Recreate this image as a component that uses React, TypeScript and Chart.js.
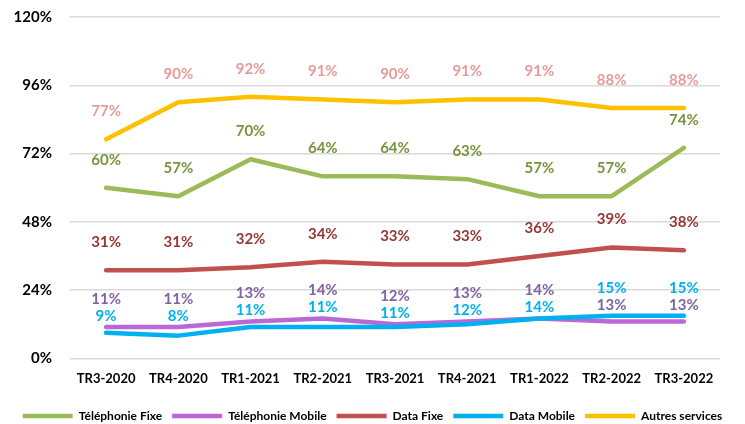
import React, { useEffect, useRef } from "react";
import { Chart, registerables } from "chart.js";

Chart.register(...registerables);

const categories = ["TR3-2020", "TR4-2020", "TR1-2021", "TR2-2021", "TR3-2021", "TR4-2021", "TR1-2022", "TR2-2022", "TR3-2022"];
const telFixe = [60, 57, 70, 64, 64, 63, 57, 57, 74];
const telMobile = [11, 11, 13, 14, 12, 13, 14, 13, 13];
const dataFixe = [31, 31, 32, 34, 33, 33, 36, 39, 38];
const dataMobile = [9, 8, 11, 11, 11, 12, 14, 15, 15];
const autres = [77, 90, 92, 91, 90, 91, 91, 88, 88];
const seriesNames = ["Téléphonie Fixe", "Téléphonie Mobile", "Data Fixe", "Data Mobile", "Autres services"];
const yTicks = [0, 24, 48, 72, 96, 120];

const lineColors = ["#9BBB59", "#B968D6", "#C0504D", "#00B0F0", "#FFC000"];
const labelColors = ["#77933C", "#8064A2", "#953735", "#00B0F0", "#E49C9A"];
const FONT = "Lato, 'Open Sans', sans-serif";

const labelPlugin = {
  id: "valueLabels",
  afterDatasetsDraw(chart: any) {
    const ctx = chart.ctx;
    ctx.save();
    ctx.font = `bold 15px ${FONT}`;
    ctx.textAlign = "center";
    ctx.textBaseline = "middle";
    const metas = chart.data.datasets.map((_: any, i: number) => chart.getDatasetMeta(i));
    chart.data.datasets.forEach((ds: any, i: number) => {
      const meta = metas[i];
      meta.data.forEach((pt: any, j: number) => {
        let y = pt.y - 28;
        if (i === 1 || i === 3) {
          const mob = chart.data.datasets[1].data[j];
          const dm = chart.data.datasets[3].data[j];
          const upper = dm > mob ? 3 : 1;
          const upperY = metas[upper].data[j].y - 28;
          y = i === upper ? upperY : upperY + 17;
        }
        ctx.fillStyle = labelColors[i];
        ctx.fillText(ds.data[j] + "%", pt.x, y);
      });
    });
    ctx.restore();
  },
};

export default function App() {
  const ref = useRef<HTMLCanvasElement>(null);
  useEffect(() => {
    document.body.style.margin = "0";
    const allData = [telFixe, telMobile, dataFixe, dataMobile, autres];
    const chart = new Chart(ref.current as HTMLCanvasElement, {
      type: "line",
      data: {
        labels: categories,
        datasets: allData.map((d, i) => ({
          label: seriesNames[i],
          data: d,
          borderColor: lineColors[i],
          backgroundColor: lineColors[i],
          borderWidth: 4.5,
          pointRadius: 0,
          tension: 0,
          borderCapStyle: "round" as const,
          borderJoinStyle: "round" as const,
          order: 5 - i,
        })),
      },
      options: {
        responsive: false,
        animation: false,
        layout: { padding: { top: 0, right: 0, left: 0, bottom: 0 } },
        plugins: {
          legend: {
            position: "bottom",
            maxHeight: 24,
            labels: {
              usePointStyle: true,
              pointStyle: "line",
              pointStyleWidth: 50,
              boxHeight: 13,
              padding: 10,
              color: "#000",
              font: { family: FONT, size: 12, weight: "bold" },
              sort: (a: any, b: any) => a.datasetIndex - b.datasetIndex,
            },
          },
          tooltip: { enabled: false },
        },
        scales: {
          x: {
            offset: true,
            grid: { display: false, drawTicks: false },
            border: { display: false },
            ticks: {
              padding: 13,
              color: "#000",
              font: { family: FONT, size: 13, weight: "bold" },
              maxRotation: 0,
            },
          },
          y: {
            min: 0,
            max: 120,
            afterFit: (s: any) => { s.width = 70; s.paddingTop = 17; },
            afterBuildTicks: (s: any) => { s.ticks = yTicks.map((v) => ({ value: v })); },
            grid: { color: "#D9D9D9", lineWidth: 1.5, drawTicks: false },
            border: { display: false },
            ticks: {
              padding: 18,
              color: "#000",
              font: { family: FONT, size: 15, weight: "bold" },
              callback: (v: any) => v + "%",
            },
          },
          yRight: {
            position: "right",
            display: true,
            grid: { display: false, drawTicks: false },
            border: { display: false },
            ticks: { display: false },
            afterFit: (s: any) => { s.width = 25; },
          },
        },
      },
      plugins: [labelPlugin],
    });
    return () => chart.destroy();
  }, []);
  return (
    <div style={{ width: 745, height: 424, background: "#fff" }}>
      <canvas ref={ref} width={745} height={424} />
    </div>
  );
}
